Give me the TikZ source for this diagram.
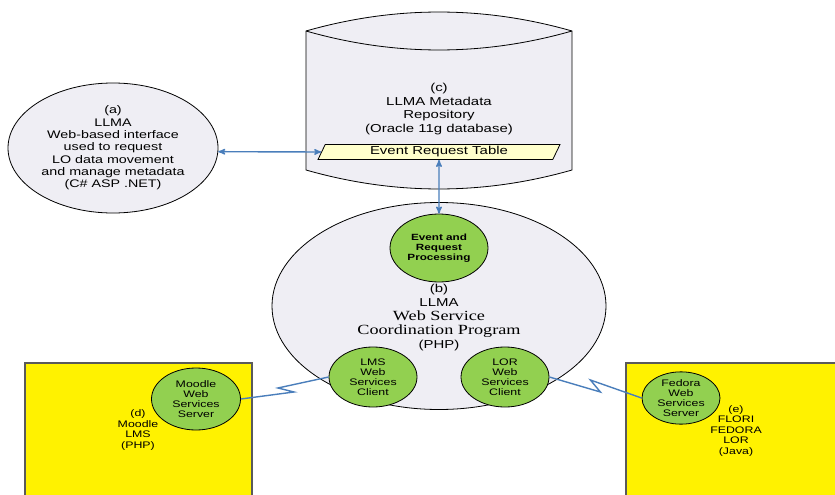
\documentclass[tikz,border=0pt]{standalone}
\usepackage{fontspec}
\setmainfont{Liberation Sans}[FakeStretch=1.3]
\newfontfamily\serif{Liberation Serif}[FakeStretch=1.3]
\usetikzlibrary{arrows,shapes.geometric}
\definecolor{lavender}{RGB}{239,238,244}
\definecolor{leaf}{RGB}{146,208,80}
\definecolor{wire}{RGB}{74,126,187}
\definecolor{tablefill}{RGB}{255,255,204}
\definecolor{boxline}{RGB}{90,90,90}

\begin{document}
\begin{tikzpicture}[x=1pt,y=-1pt,>=stealth',line width=0.8pt,
  big node/.style={ellipse,draw,fill=lavender,inner sep=0pt,align=center},
  green node/.style={ellipse,draw,fill=leaf,inner sep=0pt,align=center,
    minimum width=88pt,minimum height=60pt,font=\fontsize{9.5}{10}\selectfont},
  link/.style={draw=wire,line width=1.4pt},
  system box/.style={fill=yellow},
  small text/.style={align=center,font=\fontsize{9.5}{10.5}\selectfont}]
  \useasboundingbox (0,0) rectangle (835,495);

  % metadata repository
  \path[draw,fill=lavender] (306,31) -- (306,170)
    .. controls (394.7,195.3) and (483.3,195.3) .. (572,170) -- (572,31)
    .. controls (483.3,5.7) and (394.7,5.7) .. (306,31) -- cycle;
  \draw (306,31) .. controls (394.7,56.3) and (483.3,56.3) .. (572,31);
  \node[align=center,font=\fontsize{11.5}{13.5}\selectfont] (c) at (439,109)
    {(c)\\LLMA Metadata\\Repository\\(Oracle 11g database)};
  \node[trapezium,trapezium left angle=56,trapezium right angle=124,
    trapezium stretches body,draw,fill=tablefill,minimum width=242pt,
    minimum height=15pt,inner ysep=0pt,font=\fontsize{11.5}{12}\selectfont]
    (ert) at (439,152) {Event Request Table};

  % web interface
  \node[big node,minimum width=210pt,minimum height=130pt,
    font=\fontsize{11}{12.3}\selectfont] (a) at (113,148)
    {(a)\\LLMA\\Web-based interface\\ used to request\\LO data movement\\and manage metadata\\(C\# ASP .NET)};

  % coordination program
  \node[big node,minimum width=334pt,minimum height=207pt] (b) at (439,306) {};
  \node[align=center,font=\fontsize{11.5}{14}\selectfont] (btext) at (439,318)
    {(b)\\LLMA\\{\serif\fontsize{14}{14}\selectfont Web Service}\\
     {\serif\fontsize{14}{14}\selectfont Coordination Program}\\(PHP)};
  \node[green node,minimum width=98pt,minimum height=68pt,
    font=\fontsize{9}{10}\selectfont\bfseries] (erp) at (439,248)
    {Event and\\Request\\Processing};
  \node[green node] (lms) at (373,377) {LMS\\Web\\Services\\Client};
  \node[green node] (lor) at (505,377) {LOR\\Web\\Services\\Client};

  % moodle
  \fill[system box] (25,363) rectangle (252,495);
  \draw[boxline,line width=1.2pt] (25,495) -- (25,363) -- (252,363) -- (252,495);
  \node[small text] (d) at (138,430) {(d)\\Moodle\\LMS\\(PHP)};
  \node[green node,minimum width=89pt,minimum height=62pt] (moodle) at (196,399)
    {Moodle\\Web\\Services\\Server};

  % fedora
  \fill[system box] (626,363) rectangle (835,495);
  \draw[boxline,line width=1.2pt] (626,495) -- (626,363) -- (835,363);
  \node[small text] (e) at (736,431) {(e)\\FLORI\\FEDORA\\LOR\\(Java)};
  \node[green node,minimum width=78pt,minimum height=50pt] (fedora) at (681,398)
    {Fedora\\Web\\Services\\Server};

  % connections
  \draw[link,<->] (a.-2) -- (ert.west);
  \draw[link,<->] (ert.south) -- (erp.north);
  \draw[link] (moodle.east) -- ++(53,-7) -- ++(-16,-4) -- (lms.west);
  \draw[link] (lor.east) -- ++(51,15) -- ++(-10,-12) -- (fedora.west);
\end{tikzpicture}
\end{document}
